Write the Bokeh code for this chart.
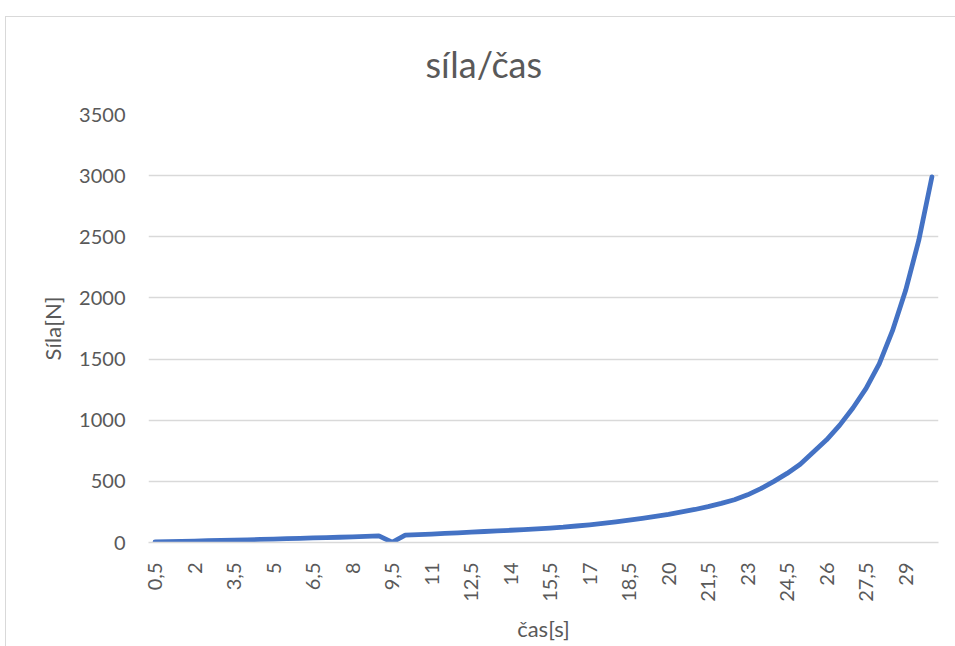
import math
from bokeh.plotting import figure
from bokeh.models import Range1d, SingleIntervalTicker, FixedTicker
from bokeh.embed import file_html
from bokeh.resources import INLINE

# --- data ---
cas = [0.5, 1.0, 1.5, 2.0, 2.5, 3.0, 3.5, 4.0, 4.5, 5.0,
       5.5, 6.0, 6.5, 7.0, 7.5, 8.0, 8.5, 9.0, 9.5, 10.0,
       10.5, 11.0, 11.5, 12.0, 12.5, 13.0, 13.5, 14.0, 14.5, 15.0,
       15.5, 16.0, 16.5, 17.0, 17.5, 18.0, 18.5, 19.0, 19.5, 20.0,
       20.5, 21.0, 21.5, 22.0, 22.5, 23.0, 23.5, 24.0, 24.5, 25.0,
       25.5, 26.0, 26.5, 27.0, 27.5, 28.0, 28.5, 29.0, 29.5, 30.0]

sila = [5, 7, 9, 12, 15, 17, 20, 22, 25, 28,
        31, 34, 37, 40, 43, 46, 50, 54, 2, 60,
        64, 69, 74, 79, 85, 90, 95, 100, 106, 112,
        118, 125, 135, 145, 157, 169, 183, 197, 213, 230,
        250, 270, 293, 320, 350, 390, 440, 500, 565, 640,
        740, 840, 960, 1100, 1260, 1460, 1730, 2060, 2470, 2990]

tick_values = [0.5, 2.0, 3.5, 5.0, 6.5, 8.0, 9.5, 11.0, 12.5, 14.0,
               15.5, 17.0, 18.5, 20.0, 21.5, 23.0, 24.5, 26.0, 27.5, 29.0]
tick_labels = ["0,5", "2", "3,5", "5", "6,5", "8", "9,5", "11", "12,5", "14",
               "15,5", "17", "18,5", "20", "21,5", "23", "24,5", "26", "27,5", "29"]

title_text = "síla/čas"
x_title = "čas[s]"
y_title = "Síla[N]"

FONT = "Lato"
TXT = "#595959"
GRID = "#d9d9d9"

p = figure(width=950, height=638, output_backend="svg", toolbar_location=None,
           x_range=Range1d(0.25, 30.25),
           y_range=Range1d(0, 3500),
           min_border_left=143, min_border_right=17,
           min_border_top=106, min_border_bottom=104,
           title=title_text)

# chart-area frame (thin grey line on the left and top, as in the reference)
p.styles = {
    "margin-left": "5px",
    "margin-top": "8px",
    "background": ("linear-gradient(#d9d9d9, #d9d9d9) 0px 8px / 1px 100% no-repeat, "
                   "linear-gradient(#d9d9d9, #d9d9d9) 0px 8px / 100% 1px no-repeat, #ffffff"),
}

p.line(x=cas, y=sila, line_color="#4472C4", line_width=4.8,
       line_join="round", line_cap="round")

p.title.align = "left"
p.title.offset = 277
p.title.text_font = FONT
p.title.text_font_size = "36px"
p.title.text_font_style = "normal"
p.title.text_color = TXT
p.title.standoff = 58

p.outline_line_color = None
p.background_fill_color = "white"
p.border_fill_color = None

# y axis
p.yaxis.ticker = SingleIntervalTicker(interval=500)
p.yaxis.axis_line_color = None
p.yaxis.major_tick_line_color = None
p.yaxis.minor_tick_line_color = None
p.yaxis.major_label_text_font = FONT
p.yaxis.major_label_text_font_size = "20px"
p.yaxis.major_label_text_color = TXT
p.yaxis.major_label_standoff = 17
p.yaxis.axis_label = y_title
p.yaxis.axis_label_text_font = FONT
p.yaxis.axis_label_text_font_size = "22px"
p.yaxis.axis_label_text_font_style = "normal"
p.yaxis.axis_label_text_color = TXT
p.yaxis.axis_label_standoff = 10

p.ygrid.grid_line_color = GRID
p.ygrid.grid_line_width = 1.5
p.xgrid.grid_line_color = None

# x axis
p.xaxis.ticker = FixedTicker(ticks=tick_values, minor_ticks=[])
p.xaxis.major_label_overrides = dict(zip(tick_values, tick_labels))
p.xaxis.axis_line_color = GRID
p.xaxis.axis_line_width = 1.5
p.xaxis.major_tick_line_color = None
p.xaxis.minor_tick_line_color = None
p.xaxis.major_label_orientation = math.pi / 2
p.xaxis.major_label_text_font = FONT
p.xaxis.major_label_text_font_size = "20px"
p.xaxis.major_label_text_color = TXT
p.xaxis.major_label_standoff = 14
p.xaxis.axis_label = x_title
p.xaxis.axis_label_text_font = FONT
p.xaxis.axis_label_text_font_size = "22px"
p.xaxis.axis_label_text_font_style = "normal"
p.xaxis.axis_label_text_color = TXT
p.xaxis.axis_label_standoff = 10

open("out.html", "w").write(file_html(p, INLINE))
